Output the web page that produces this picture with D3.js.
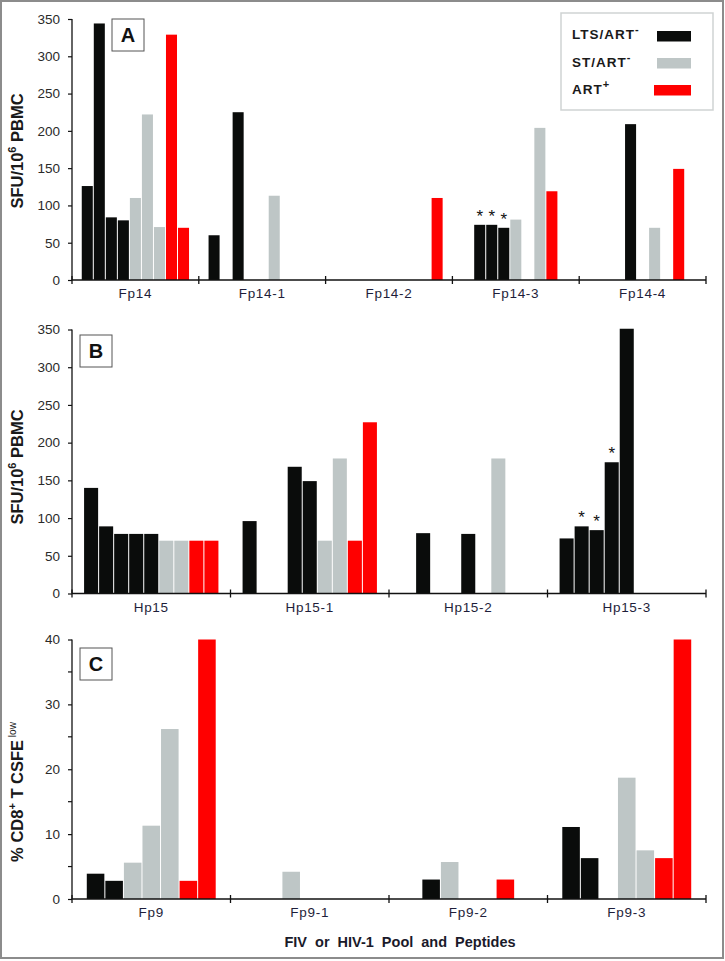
<!DOCTYPE html>
<html>
<head>
<meta charset="utf-8">
<script src="https://cdn.jsdelivr.net/npm/d3@7/dist/d3.min.js"></script>
<style>
  html, body { margin: 0; padding: 0; background: #fff; }
  svg { display: block; font-family: "Liberation Sans", Arial, sans-serif; }
</style>
</head>
<body>
<svg id="chart" width="725" height="961"></svg>
<script>
// ---------- DATA ----------
const seriesNames = ["LTS/ART", "ST/ART", "ART"];

// Panel A
const categoriesA = ["Fp14", "Fp14-1", "Fp14-2", "Fp14-3", "Fp14-4"];
const slotTypesA = [0, 0, 0, 0, 1, 1, 1, 2, 2];
const valuesA = [
  [126, 344, 84, 80, 110, 222, 71, 329, 70],
  [60, null, 225, null, null, 113, null, null, null],
  [null, null, null, null, null, null, null, null, 110],
  [null, 74, 74, 70, 81, null, 204, 119, null],
  [null, null, null, 209, null, 70, null, 149, null]
];
const starsA = [["Fp14-3", 1], ["Fp14-3", 2], ["Fp14-3", 3]];
const ticksA = [0, 50, 100, 150, 200, 250, 300, 350];

// Panel B
const categoriesB = ["Hp15", "Hp15-1", "Hp15-2", "Hp15-3"];
const slotTypesB = [0, 0, 0, 0, 0, 1, 1, 2, 2];
const valuesB = [
  [140, 89, 79, 79, 79, 70, 70, 70, 70],
  [96, null, null, 168, 149, 70, 179, 70, 227],
  [null, 80, null, null, 79, null, 179, null, null],
  [73, 89, 84, 174, 351, null, null, null, null]
];
const starsB = [["Hp15-3", 1], ["Hp15-3", 2], ["Hp15-3", 3]];
const ticksB = [0, 50, 100, 150, 200, 250, 300, 350];

// Panel C
const categoriesC = ["Fp9", "Fp9-1", "Fp9-2", "Fp9-3"];
const slotTypesC = [0, 0, 1, 1, 1, 2, 2];
const valuesC = [
  [3.9, 2.8, 5.6, 11.3, 26.2, 2.8, 40],
  [null, null, 4.2, null, null, null, null],
  [null, 3.0, 5.7, null, null, 3.0, null],
  [11.1, 6.3, null, 18.7, 7.5, 6.3, 40]
];
const starsC = [];
const ticksC = [0, 10, 20, 30, 40];
const minorTicksC = [5, 15, 25, 35];

// ---------- STYLE ----------
const colors = ["#0a0c0b", "#bec6c6", "#ff0000"];
const svg = d3.select("#chart");

svg.append("rect").attr("x", 1).attr("y", 1).attr("width", 722).attr("height", 957)
  .attr("fill", "#fff").attr("stroke", "#8c8c8c").attr("stroke-width", 2);

function panel(cfg) {
  const g = svg.append("g");
  const x0 = d3.scaleBand().domain(cfg.categories).range([72, 706]).paddingInner(0).paddingOuter(0);
  const x1 = d3.scaleBand().domain(d3.range(cfg.slotTypes.length)).range([0, x0.bandwidth()])
    .paddingInner(0).paddingOuter(0.77);
  const y = d3.scaleLinear().domain([0, cfg.max]).range([cfg.bottom, cfg.top]);

  // bars
  const bars = [];
  cfg.values.forEach((row, ci) => row.forEach((v, si) => {
    if (v !== null) bars.push({ cat: cfg.categories[ci], slot: si, v: v, t: cfg.slotTypes[si] });
  }));
  g.selectAll("rect.bar").data(bars).enter().append("rect")
    .attr("x", d => x0(d.cat) + x1(d.slot) + 0.5)
    .attr("width", x1.bandwidth() - 1)
    .attr("y", d => y(d.v))
    .attr("height", d => y(0) - y(d.v))
    .attr("fill", d => colors[d.t]);

  // stars
  g.selectAll("text.star").data(cfg.stars).enter().append("text")
    .attr("x", d => x0(d[0]) + x1(d[1]) + x1.bandwidth() / 2)
    .attr("y", d => {
      const ci = cfg.categories.indexOf(d[0]);
      return y(cfg.values[ci][d[1]]) - 3;
    })
    .attr("text-anchor", "middle")
    .attr("font-size", 17).attr("fill", "#111")
    .text("*");

  // y axis
  const yAxis = d3.axisLeft(y).tickValues(cfg.ticks).tickSize(4).tickPadding(8)
    .tickFormat(d3.format("d"));
  const ya = g.append("g").attr("transform", "translate(72,0)").call(yAxis);
  ya.select(".domain").attr("stroke", "#111").attr("stroke-width", 1.3).attr("d", `M-0,${cfg.top}V${cfg.bottom}`);
  ya.selectAll(".tick line").attr("stroke", "#111").attr("stroke-width", 1.2);
  ya.selectAll(".tick text").attr("font-size", 13.5).attr("fill", "#2a2a2a")
    .attr("font-family", "'Liberation Sans', Arial, sans-serif");
  if (cfg.minor) {
    g.selectAll("line.minor").data(cfg.minor).enter().append("line")
      .attr("x1", 68).attr("x2", 72).attr("y1", d => y(d)).attr("y2", d => y(d))
      .attr("stroke", "#111").attr("stroke-width", 1.2);
  }

  // x axis
  g.append("line").attr("x1", 72).attr("x2", 706).attr("y1", y(0)).attr("y2", y(0))
    .attr("stroke", "#111").attr("stroke-width", 1.5);
  const bounds = cfg.categories.map(c => x0(c)).concat([x0.range()[1]]);
  g.selectAll("line.xt").data(bounds).enter().append("line")
    .attr("x1", d => d).attr("x2", d => d)
    .attr("y1", y(0) - 4).attr("y2", y(0) + 4)
    .attr("stroke", "#111").attr("stroke-width", 1.3);
  g.selectAll("text.xl").data(cfg.categories).enter().append("text")
    .attr("x", d => x0(d) + x0.bandwidth() / 2)
    .attr("y", y(0) + 18)
    .attr("text-anchor", "middle")
    .attr("font-size", 13.5).attr("letter-spacing", 0.7).attr("fill", "#1e1e3a")
    .text(d => d);

  // panel letter box
  g.append("rect").attr("x", cfg.box[0]).attr("y", cfg.box[1]).attr("width", 32).attr("height", 32)
    .attr("fill", "#fff").attr("stroke", "#555").attr("stroke-width", 1);
  g.append("text").attr("x", cfg.box[0] + 16).attr("y", cfg.box[1] + 23)
    .attr("text-anchor", "middle").attr("font-size", 20).attr("font-weight", "bold").attr("fill", "#111")
    .text(cfg.letter);

  // y title
  const t = g.append("text")
    .attr("transform", `translate(23,${cfg.titleY}) rotate(-90)`)
    .attr("text-anchor", "middle").attr("font-size", 16.5).attr("font-weight", "bold").attr("fill", "#1a1a1a");
  cfg.title(t);
}

function sfuTitle(t) {
  t.append("tspan").text("SFU/10");
  t.append("tspan").attr("dy", -7).attr("font-size", 11).text("6");
  t.append("tspan").attr("dy", 7).text(" PBMC");
}

panel({ categories: categoriesA, slotTypes: slotTypesA, values: valuesA, stars: starsA, ticks: ticksA,
  max: 350, top: 19, bottom: 280, box: [112, 19], letter: "A", titleY: 151, title: sfuTitle });
panel({ categories: categoriesB, slotTypes: slotTypesB, values: valuesB, stars: starsB, ticks: ticksB,
  max: 350, top: 329.5, bottom: 593.5, box: [80, 335], letter: "B", titleY: 467, title: sfuTitle });
panel({ categories: categoriesC, slotTypes: slotTypesC, values: valuesC, stars: starsC, ticks: ticksC,
  minor: minorTicksC, max: 40, top: 639.5, bottom: 899, box: [80, 648], letter: "C", titleY: 792,
  title: t => {
    t.append("tspan").text("% CD8");
    t.append("tspan").attr("dy", -7).attr("font-size", 11).text("+");
    t.append("tspan").attr("dy", 7).text(" T CSFE");
    t.append("tspan").attr("dy", -7).attr("font-size", 10).attr("font-weight", "normal").text(" low");
  } });

// legend
const lg = svg.append("g");
lg.append("rect").attr("x", 561).attr("y", 13).attr("width", 152).attr("height", 97)
  .attr("fill", "#fff").attr("stroke", "#cfd3d3").attr("stroke-width", 1.5);
const legendRows = [
  { name: seriesNames[0], sup: "-", y: 39 },
  { name: seriesNames[1], sup: "-", y: 67 },
  { name: seriesNames[2], sup: "+", y: 94 }
];
legendRows.forEach((r, i) => {
  const tx = lg.append("text").attr("x", 572).attr("y", r.y)
    .attr("font-size", 13.5).attr("font-weight", "bold").attr("letter-spacing", 1).attr("fill", "#1a1a1a");
  tx.append("tspan").text(r.name);
  tx.append("tspan").attr("dy", -6).attr("font-size", 11).text(r.sup);
  lg.append("rect").attr("x", i === 2 ? 654 : 657).attr("y", r.y - 8 + (i === 0 ? 0 : -1))
    .attr("width", i === 2 ? 37 : 34).attr("height", 10.5).attr("fill", colors[i]);
});

// x-axis title
svg.append("text").attr("x", 400).attr("y", 947).attr("text-anchor", "middle")
  .attr("font-size", 14.5).attr("font-weight", "bold").attr("word-spacing", 4).attr("fill", "#1a1a2a")
  .text("FIV or HIV-1 Pool and Peptides");
</script>
</body>
</html>
